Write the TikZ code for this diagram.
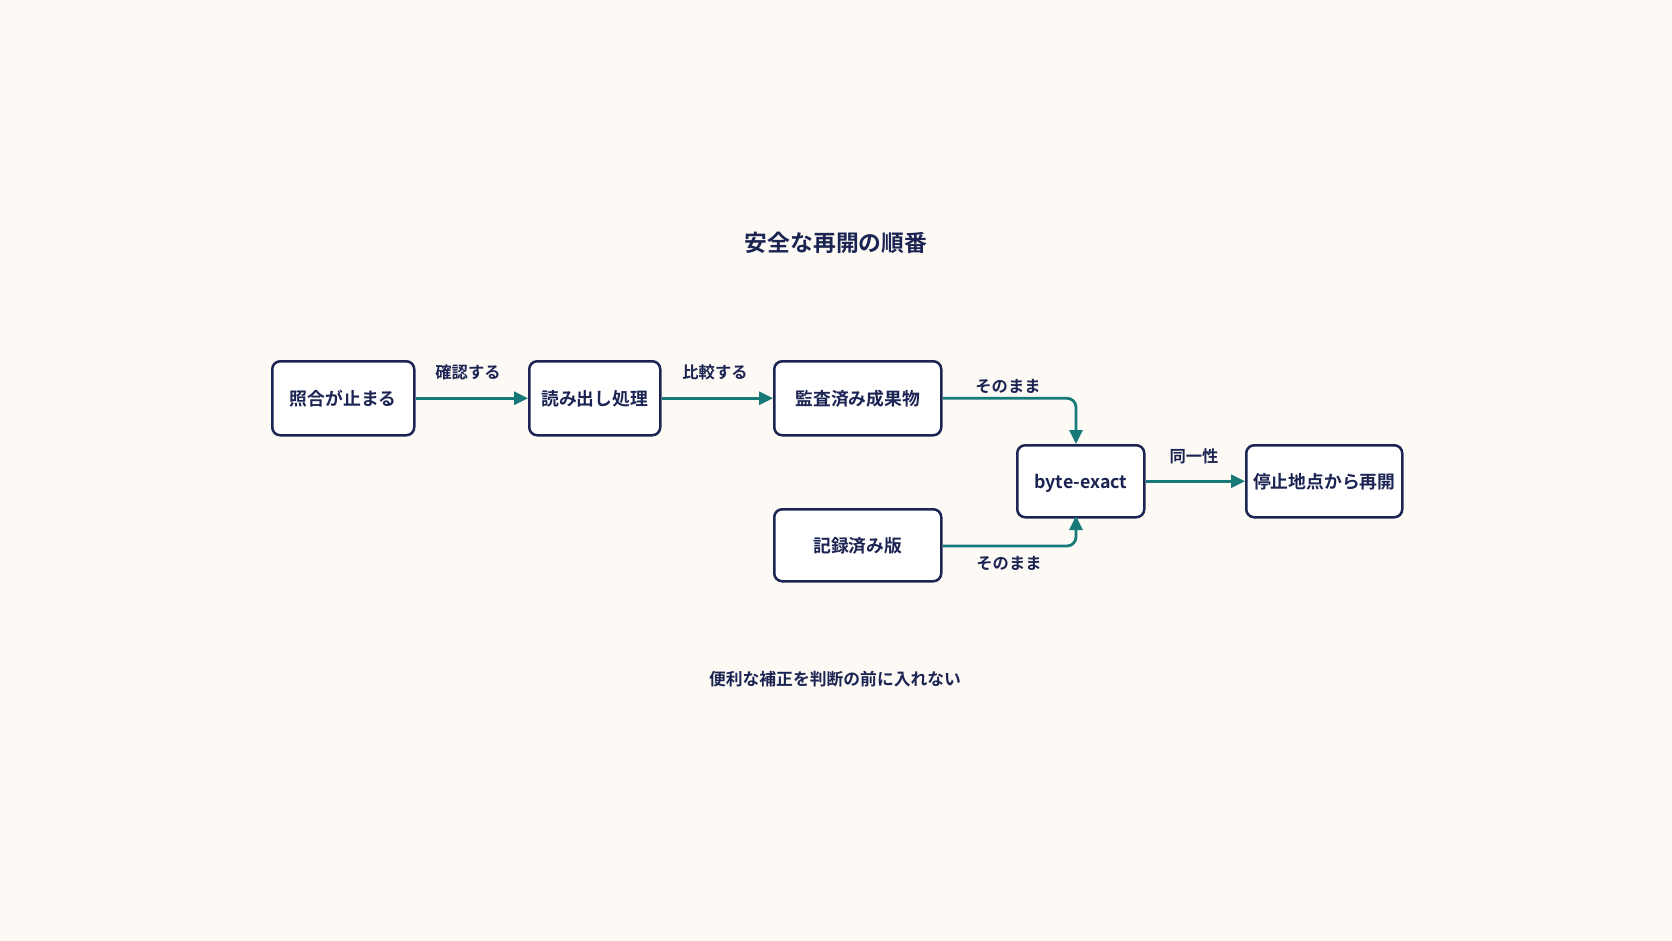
\documentclass[tikz,border=0pt]{standalone}
\usepackage{fontspec}
\setmainfont{Noto Sans CJK JP}[BoldFont={* Bold}]
\usetikzlibrary{arrows.meta,positioning}
\definecolor{bgc}{HTML}{FDFAF5}
\definecolor{navy}{HTML}{1B2452}
\definecolor{teal}{HTML}{177A78}
\begin{document}
\begin{tikzpicture}[x=1pt,y=-1pt,
  box/.style={draw=navy,line width=2.5pt,rounded corners=8pt,fill=white,text=navy,font=\fontsize{17.8}{20}\selectfont\bfseries,inner sep=0pt,anchor=north west,text depth=0pt,text height=14pt},
  conn/.style={draw=teal,line width=2.8pt,-{Triangle[length=14pt,width=13pt]}},
  lbl/.style={text=navy,font=\fontsize{16.3}{18}\selectfont\bfseries}]
\fill[bgc] (0,0) rectangle (1672,941);
\useasboundingbox (0,0) rectangle (1672,941);
\node[text=navy,font=\fontsize{22.8}{26}\selectfont\bfseries] (title) at (836,243) {安全な再開の順番};
\node[box,minimum width=142pt,minimum height=74pt] (a) at (271,360) {照合が止まる};
\node[box,minimum width=131pt,minimum height=74pt] (b) at (528,360) {読み出し処理};
\node[box,minimum width=167pt,minimum height=74pt] (c) at (773,360) {監査済み成果物};
\node[box,minimum width=127pt,minimum height=72pt] (d) at (1016,444) {byte-exact};
\node[box,minimum width=156pt,minimum height=72pt] (e) at (1245,444) {停止地点から再開};
\node[box,minimum width=167pt,minimum height=72pt] (f) at (773,508) {記録済み版};
\coordinate (dt) at (1076,444);
\coordinate (db) at (1076,516);
\draw[conn] (a.east) -- (b.west);
\draw[conn] (b.east) -- (c.west);
\draw[conn,rounded corners=9pt] (c.east) -- (dt |- c.east) -- (dt);
\draw[conn,rounded corners=9pt] (f.east |- 0,546) -- (db |- 0,546) -- (db);
\draw[conn] (d.east) -- (e.west);
\node[lbl] (l1) at (468,372) {確認する};
\node[lbl] (l2) at (715,372) {比較する};
\node[lbl] (l3) at (1008,386) {そのまま};
\node[lbl] (l4) at (1009,563) {そのまま};
\node[lbl] (l5) at (1194,456) {同一性};
\node[text=navy,font=\fontsize{16.8}{20}\selectfont\bfseries] (foot) at (835,679) {便利な補正を判断の前に入れない};
\end{tikzpicture}
\end{document}
